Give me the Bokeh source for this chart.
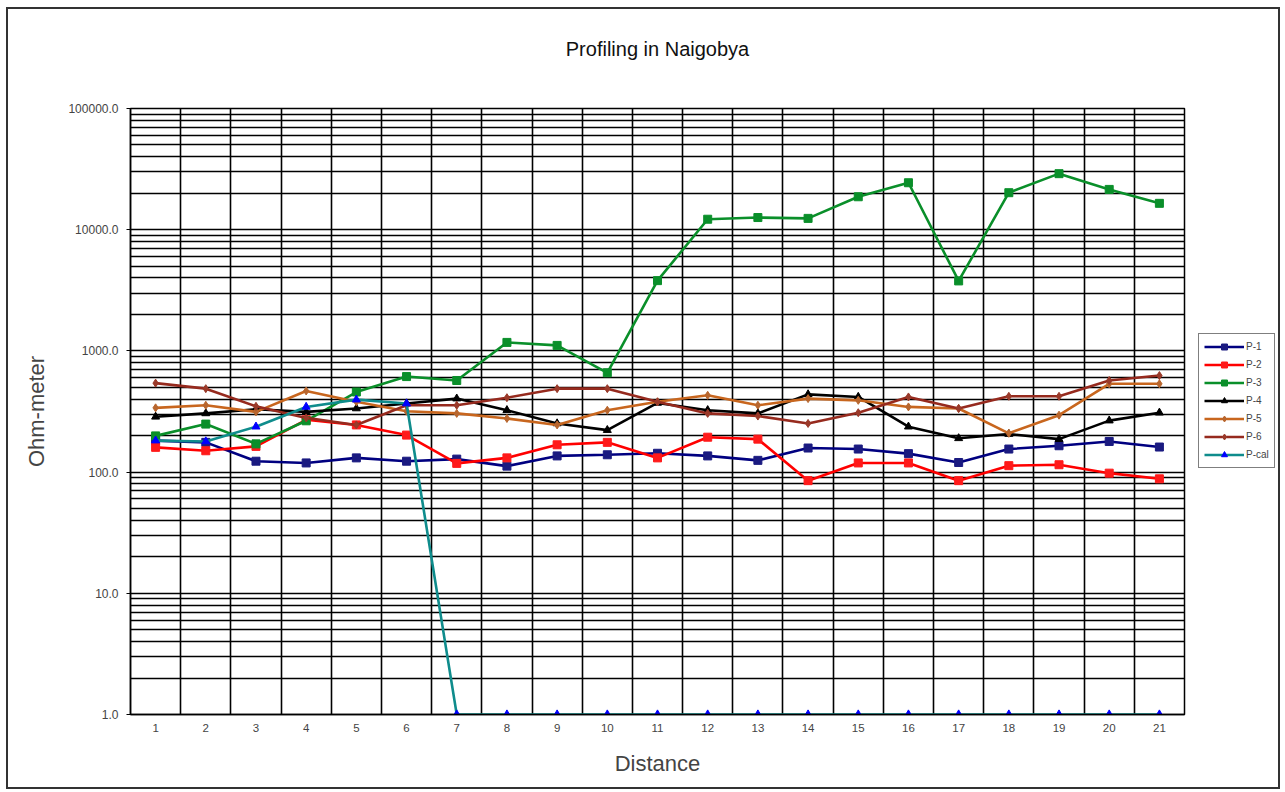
from bokeh.plotting import figure
from bokeh.layouts import row
from bokeh.models import (FixedTicker, PrintfTickFormatter, Range1d, Legend, LegendItem, Title)
from bokeh.embed import file_html
from bokeh.resources import INLINE

# ---------------- data ----------------
distance = list(range(1, 22))
p1 = [182, 176, 123, 119, 131, 123, 128, 112, 136, 139, 143, 136, 125, 158, 155, 142, 120, 155, 165, 179, 161]
p2 = [160, 150, 163, 270, 245, 202, 118, 131, 168, 176, 131, 194, 187, 85, 119, 119, 85, 113, 115, 98, 88]
p3 = [199, 249, 171, 265, 458, 614, 570, 1175, 1110, 660, 3800, 12200, 12600, 12400, 18700, 24400, 3780,
      20200, 29000, 21500, 16500]
p4 = [286, 305, 330, 314, 335, 368, 404, 324, 252, 222, 372, 324, 305, 438, 417, 237, 190, 206, 187, 266, 309]
p5 = [339, 356, 314, 467, 380, 318, 305, 277, 245, 324, 380, 430, 356, 404, 391, 345, 335, 209, 295, 535, 535]
p6 = [542, 488, 349, 280, 245, 356, 356, 411, 488, 488, 380, 305, 290, 252, 309, 417, 335, 422, 422, 570, 626]
pcal = [182, 179, 237, 345, 396, 368, 1, 1, 1, 1, 1, 1, 1, 1, 1, 1, 1, 1, 1, 1, 1]

series_names = ["P-1", "P-2", "P-3", "P-4", "P-5", "P-6", "P-cal"]
series_values = [p1, p2, p3, p4, p5, p6, pcal]
line_colors = ["#000080", "#ff0000", "#0a8f2a", "#000000", "#c8661e", "#962a1e", "#0f8c8c"]
marker_colors = ["#1a1a80", "#ff1a1a", "#0a8f2a", "#000000", "#b8662e", "#9a3a2a", "#0000ff"]
markers = ["square", "square", "square", "triangle", "diamond", "diamond", "triangle"]

y_major = [1, 10, 100, 1000, 10000, 100000]
y_minor = [m * d for d in y_major[:-1] for m in range(2, 10)]
x_grid = [i + 0.5 for i in distance[:-1]]

FONT = "Liberation Sans"

p = figure(width=1182, height=778, y_axis_type="log",
           x_range=Range1d(0.5, 21.5), y_range=Range1d(1, 100000),
           output_backend="svg", toolbar_location=None,
           min_border_left=122, min_border_right=6, min_border_top=99, min_border_bottom=73,
           title="Profiling in Naigobya")

p.title.align = "center"
p.title.text_font = FONT
p.title.text_font_size = "20px"
p.title.text_font_style = "normal"
p.title.text_color = "#111111"
p.title.standoff = 0
# empty spacer between title and frame
p.add_layout(Title(text=" ", text_font_size="1px", standoff=46), "above")

p.outline_line_color = "black"
p.outline_line_width = 1.5

# axes
p.yaxis.ticker = FixedTicker(ticks=y_major, minor_ticks=y_minor)
p.yaxis.formatter = PrintfTickFormatter(format="%.1f")
p.yaxis.major_label_text_font = FONT
p.yaxis.major_label_text_font_size = "12px"
p.yaxis.major_label_standoff = 8
p.yaxis.major_tick_out = 4
p.yaxis.major_tick_in = 0
p.yaxis.minor_tick_out = 0
p.yaxis.minor_tick_in = 0
p.yaxis.axis_line_color = "black"
p.yaxis.axis_line_width = 1.5
p.yaxis.axis_label = "Ohm-meter"
p.yaxis.axis_label_text_font = FONT
p.yaxis.axis_label_text_font_size = "22px"
p.yaxis.axis_label_text_font_style = "normal"
p.yaxis.axis_label_standoff = 16

p.xaxis.ticker = FixedTicker(ticks=distance)
p.xaxis.major_label_text_font = FONT
p.xaxis.major_label_text_font_size = "11.5px"
p.xaxis.major_label_standoff = 9
p.xaxis.major_tick_out = 0
p.xaxis.major_tick_in = 0
p.xaxis.minor_tick_out = 0
p.xaxis.axis_line_color = "black"
p.xaxis.axis_line_width = 1.5
p.xaxis.axis_label = "Distance"
p.xaxis.axis_label_text_font = FONT
p.xaxis.axis_label_text_font_size = "22px"
p.xaxis.axis_label_text_font_style = "normal"
p.xaxis.axis_label_standoff = 16

# grids
p.ygrid.ticker = FixedTicker(ticks=y_major, minor_ticks=y_minor)
p.ygrid.grid_line_color = "black"
p.ygrid.grid_line_width = 1.6
p.ygrid.minor_grid_line_color = "black"
p.ygrid.minor_grid_line_width = 1.6
p.xgrid.ticker = FixedTicker(ticks=x_grid)
p.xgrid.grid_line_color = "black"
p.xgrid.grid_line_width = 1.6

# legend lives in a narrow side figure to the right of the plot frame;
# its renderers hold the same data, but its ranges keep them out of view
lf = figure(width=88, height=778, x_range=Range1d(-100, -99), y_range=Range1d(-100, -99),
            output_backend="svg", toolbar_location=None, min_border=0,
            x_axis_location=None, y_axis_location=None)
lf.outline_line_color = None
lf.grid.visible = False

items = []
for name, vals, lc, mc, mk in zip(series_names, series_values, line_colors, marker_colors, markers):
    p.line(distance, vals, line_color=lc, line_width=2.6)
    p.scatter(distance, vals, marker=mk, size=8, fill_color=mc, line_color=mc)
    l1 = lf.line(distance, vals, line_color=lc, line_width=2.6)
    l2 = lf.scatter(distance, vals, marker=mk, size=8, fill_color=mc, line_color=mc)
    items.append(LegendItem(label=name, renderers=[l1, l2]))

legend = Legend(items=items, location=(8, 246))
legend.label_text_font = FONT
legend.label_text_font_size = "10px"
legend.label_standoff = 2
legend.glyph_width = 40
legend.glyph_height = 15
legend.spacing = 3
legend.padding = 5
legend.margin = 0
legend.border_line_color = "black"
legend.border_line_width = 1
legend.background_fill_color = "white"
lf.add_layout(legend, "center")

layout = row(p, lf, margin=(7, 0, 0, 6), styles={"border": "2px solid #333333"})

open("out.html", "w").write(file_html(layout, INLINE))
